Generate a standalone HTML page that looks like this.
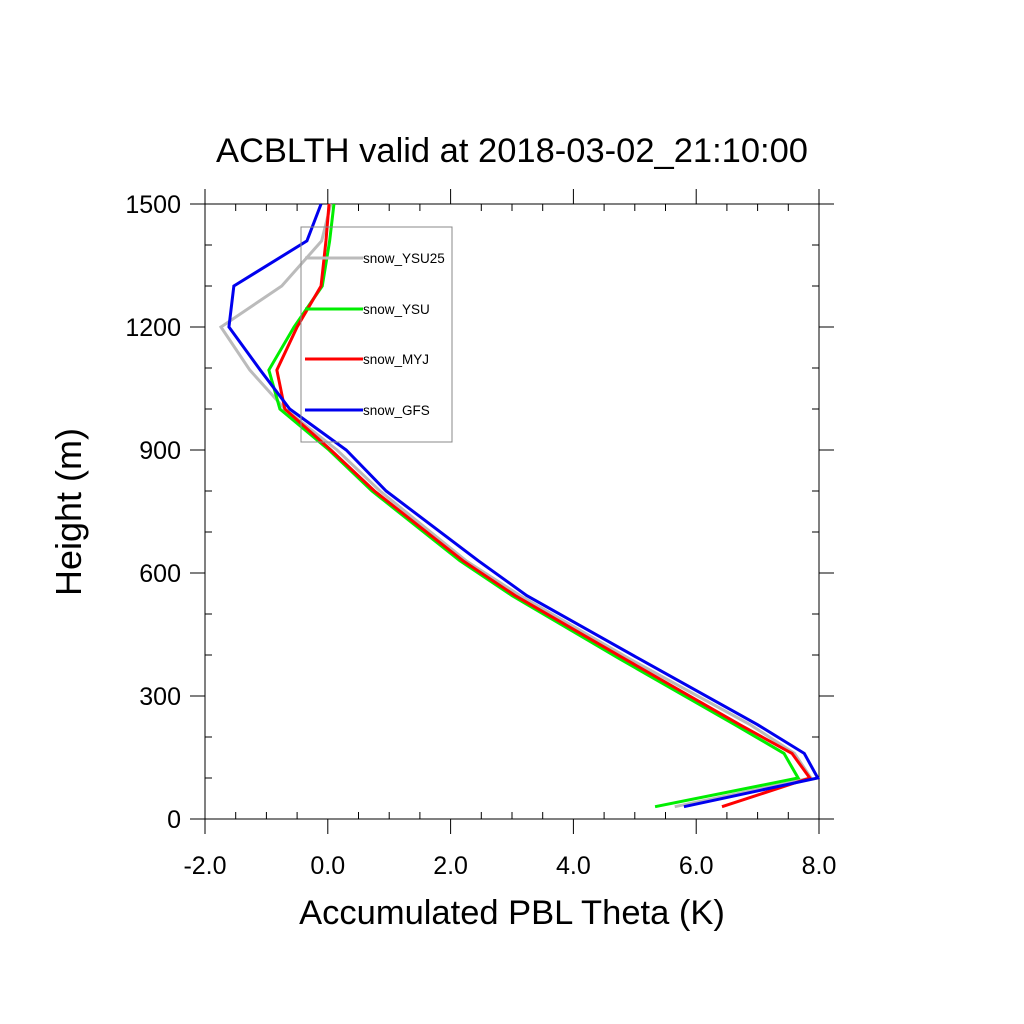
<!DOCTYPE html>
<html><head><meta charset="utf-8"><style>body{margin:0;background:#fff}svg{display:block}text{font-family:"Liberation Sans",sans-serif}</style></head>
<body>
<svg id="c" width="1024" height="1024">
<text x="512" y="162" font-size="34.5" text-anchor="middle">ACBLTH valid at 2018-03-02_21:10:00</text>
<text x="512" y="924" font-size="34.5" text-anchor="middle">Accumulated PBL Theta (K)</text>
<text transform="translate(81,512) rotate(-90)" font-size="36" text-anchor="middle">Height (m)</text>
<g id="axes"></g><g id="series"></g><g id="legend"></g>
</svg>
<script>
const heights=[30,100,160,230,390,545,630,800,900,1000,1095,1200,1300,1410,1500];
const seriesNames=["snow_YSU25","snow_YSU","snow_MYJ","snow_GFS"];
const seriesColors=["#bbbbbb","#00ee00","#ff0000","#0000ee"];
const ysu25=[5.65,7.87,7.6,6.88,4.92,3.13,2.25,0.85,0.15,-0.7,-1.27,-1.74,-0.75,-0.1,0.05];
const ysu=[5.33,7.66,7.43,6.63,4.76,3.0,2.15,0.72,0.02,-0.78,-0.96,-0.55,-0.09,0.03,0.1];
const myj=[6.42,7.85,7.56,6.71,4.84,3.05,2.2,0.76,0.05,-0.7,-0.83,-0.5,-0.11,-0.03,0.02];
const gfs=[5.8,7.98,7.76,7.0,5.08,3.24,2.45,0.95,0.3,-0.62,-1.1,-1.61,-1.53,-0.34,-0.11];
const xTicks=[-2,0,2,4,6,8];const xTickLabels=["-2.0","0.0","2.0","4.0","6.0","8.0"];
const yTicks=[0,300,600,900,1200,1500];
const X0=205,X1=819,Y0=819,Y1=204;
const sx=v=>X0+(v+2)/10*(X1-X0), sy=h=>Y0-h/1500*(Y0-Y1);
const NS="http://www.w3.org/2000/svg";
function mk(t,a,p){const e=document.createElementNS(NS,t);for(const k in a)e.setAttribute(k,a[k]);p.appendChild(e);return e;}
const ax=document.getElementById('axes');
const fr=mk('rect',{x:X0,y:Y1,width:X1-X0,height:Y0-Y1,fill:'none',stroke:'#000','stroke-width':1},ax);


for(let v=-2;v<=8.001;v+=0.5){const x=sx(v);const maj=Math.abs(v/2-Math.round(v/2))<1e-6;
 if(maj){mk('line',{x1:x,x2:x,y1:Y0,y2:Y0+15,stroke:'#000'},ax);mk('line',{x1:x,x2:x,y1:Y1,y2:Y1-15,stroke:'#000'},ax);}
 else{mk('line',{x1:x,x2:x,y1:Y0,y2:Y0-7,stroke:'#000'},ax);mk('line',{x1:x,x2:x,y1:Y1,y2:Y1+7,stroke:'#000'},ax);}}
for(let h=0;h<=1500;h+=100){const y=sy(h);const maj=h%300==0;
 if(maj){mk('line',{x1:X0,x2:X0-15,y1:y,y2:y,stroke:'#000'},ax);mk('line',{x1:X1,x2:X1+15,y1:y,y2:y,stroke:'#000'},ax);}
 else{mk('line',{x1:X0,x2:X0+7,y1:y,y2:y,stroke:'#000'},ax);mk('line',{x1:X1,x2:X1-7,y1:y,y2:y,stroke:'#000'},ax);}}
xTicks.forEach((v,i)=>{const t=mk('text',{x:sx(v),y:Y0+55,'font-size':25,'text-anchor':'middle'},ax);t.textContent=xTickLabels[i];

});
yTicks.forEach(h=>{const t=mk('text',{x:X0-24,y:sy(h)+9,'font-size':25,'text-anchor':'end'},ax);t.textContent=h;

});
const data=[ysu25,ysu,myj,gfs];const sg=document.getElementById('series');
data.forEach((d,i)=>{const p=mk('polyline',{points:d.map((v,j)=>sx(v)+','+sy(heights[j])).join(' '),fill:'none',stroke:seriesColors[i],'stroke-width':3},sg);

});
const lg=document.getElementById('legend');
const lb=mk('rect',{x:301,y:227,width:151,height:215,fill:'none',stroke:'#888','stroke-width':1},lg);


[258,309,359,410].forEach((y,i)=>{mk('line',{x1:305,x2:363,y1:y,y2:y,stroke:seriesColors[i],'stroke-width':3},lg);
const t=mk('text',{x:363,y:y+5,'font-size':13.5},lg);t.textContent=seriesNames[i];

});
</script>
</body></html>
